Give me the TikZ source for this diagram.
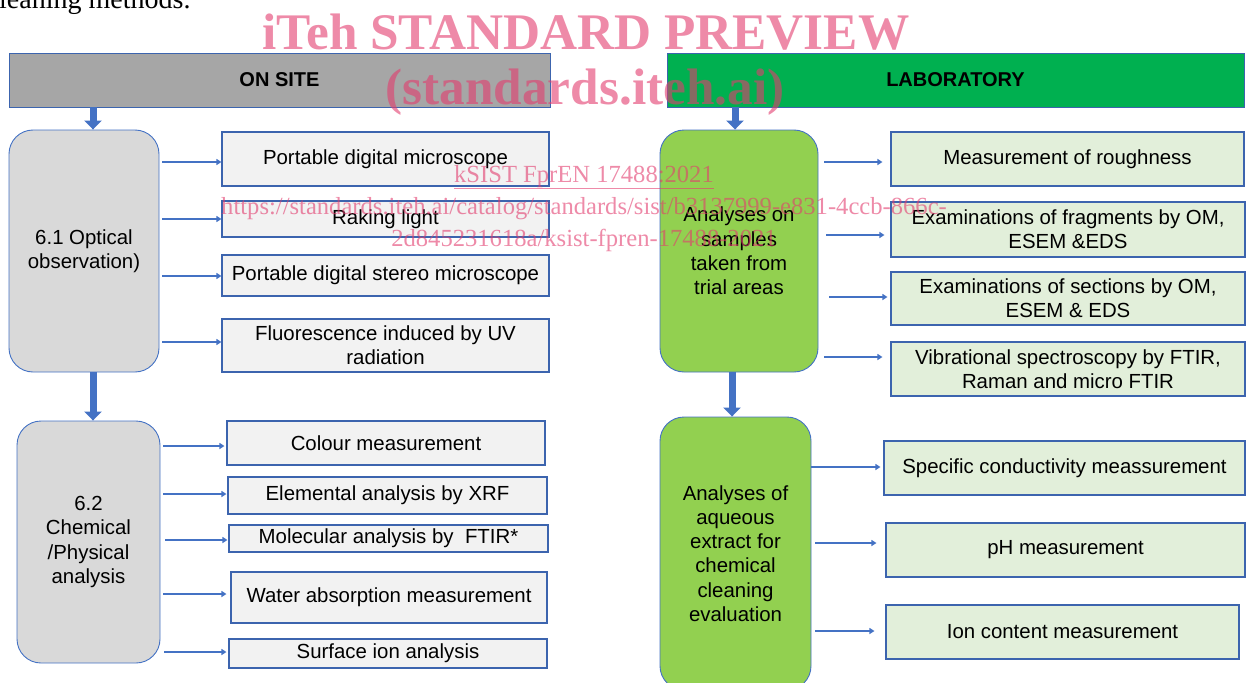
\documentclass[tikz,border=0pt]{standalone}
\usepackage{fontspec}
\setmainfont{Liberation Sans}
\newfontfamily\wmserif{Liberation Serif}
\usetikzlibrary{arrows.meta}
\definecolor{abl}{HTML}{4472C4}
\definecolor{bord}{HTML}{3C64AE}
\definecolor{hgray}{HTML}{A6A6A6}
\definecolor{hgreen}{HTML}{00B050}
\definecolor{rgray}{HTML}{D9D9D9}
\definecolor{bgray}{HTML}{F2F2F2}
\definecolor{rgreen}{HTML}{92D050}
\definecolor{bgreen}{HTML}{E2EFDA}
\definecolor{wm}{RGB}{226,60,110}
\begin{document}
\begin{tikzpicture}[x=1pt,y=-1pt,
  txt/.style={font=\fontsize{20.4}{24.2}\selectfont, align=center, inner sep=0pt},
  hdr/.style={draw=bord, line width=0.8pt, font=\fontsize{20}{24}\selectfont\bfseries, inner sep=0pt},
  rbox/.style={txt, draw=abl, line width=0.9pt, rounded corners=24pt},
  gbox/.style={txt, draw=bord, line width=1.1pt, fill=bgray},
  lbox/.style={txt, draw=bord, line width=1.1pt, fill=bgreen},
  sarr/.style={draw=abl, line width=2.2pt, -{Triangle[length=5pt,width=6pt]}},
  barr/.style={draw=abl, line width=7pt, -{Triangle[length=9pt,width=17pt]}},
  wmk/.style={text=wm, text opacity=0.6, inner sep=0pt, anchor=base}
]
\useasboundingbox (0,0) rectangle (1246,682);

% top-left cut text
\node[font=\wmserif\fontsize{28}{30}\selectfont, anchor=base west, inner sep=0pt] (lead) at (-1,9) {leaning methods.};

% headers
\node[hdr, fill=hgray, minimum width=541pt, minimum height=54pt] (onsite) at (279.5,80) {ON SITE};
\node[hdr, fill=hgreen, minimum width=577pt, minimum height=54pt] (lab) at (955.5,80) {LABORATORY};

% rounded boxes
\node[rbox, fill=rgray, minimum width=150pt, minimum height=242pt] (o61) at (84,251) {6.1 Optical\\observation)};
\node[rbox, fill=rgray, minimum width=143pt, minimum height=242pt] (o62) at (88.5,542) {6.2\\Chemical\\/Physical\\analysis};
\node[rbox, fill=rgreen, minimum width=158pt, minimum height=242pt] (an1) at (739,251) {Analyses on\\samples\\taken from\\trial areas};
\node[rbox, fill=rgreen, minimum width=151pt, minimum height=273pt] (an2) at (735.5,553.5) {Analyses of\\aqueous\\extract for\\chemical\\cleaning\\evaluation};

% on site boxes
\node[gbox, minimum width=327pt, minimum height=54pt] (p1) at (385.5,159) {Portable digital microscope};
\node[gbox, minimum width=327pt, minimum height=36pt] (p2) at (385.5,219) {Raking light};
\node[gbox, minimum width=327pt, minimum height=41pt] (p3) at (385.5,275.5) {Portable digital stereo microscope};
\node[gbox, minimum width=327pt, minimum height=53pt] (p4) at (385.5,345.5) {Fluorescence induced by UV\\radiation};
\node[gbox, minimum width=318pt, minimum height=44pt] (c1) at (386,443) {Colour measurement};
\node[gbox, minimum width=319pt, minimum height=37pt] (c2) at (387.5,495.5) {Elemental analysis by XRF};
\node[gbox, minimum width=319pt, minimum height=27pt] (c3) at (388.5,538.5) {Molecular analysis by\ \ FTIR*};
\node[gbox, minimum width=316pt, minimum height=51pt] (c4) at (389,597.5) {Water absorption measurement};
\node[gbox, minimum width=318pt, minimum height=29pt] (c5) at (388,653.5) {Surface ion analysis};

% laboratory boxes
\node[lbox, minimum width=353pt, minimum height=54pt] (l1) at (1067.5,159) {Measurement of roughness};
\node[lbox, minimum width=354pt, minimum height=55pt] (l2) at (1068,229.5) {Examinations of fragments by OM,\\ESEM \&EDS};
\node[lbox, minimum width=354pt, minimum height=53pt] (l3) at (1068,298.5) {Examinations of sections by OM,\\ESEM \& EDS};
\node[lbox, minimum width=354pt, minimum height=54pt] (l4) at (1068,369) {Vibrational spectroscopy by FTIR,\\Raman and micro FTIR};
\node[lbox, minimum width=361pt, minimum height=54pt] (l5) at (1064.5,468) {Specific conductivity meassurement};
\node[lbox, minimum width=359pt, minimum height=54pt] (l6) at (1065.5,550) {pH measurement};
\node[lbox, minimum width=353pt, minimum height=54pt] (l7) at (1062.5,632) {Ion content measurement};

% big arrows
\draw[barr] (onsite.south -| 93,0) -- (o61.north -| 93,0);
\draw[barr] (o61.south -| 93,0) -- (o62.north -| 93,0);
\draw[barr] (lab.south -| 735,0) -- (an1.north -| 735,0);
\draw[barr] (an1.south -| 732,0) -- (an2.north -| 732,0);

% small arrows on site
\draw[sarr, shorten <=3pt] (o61.east |- 0,162) -- (p1.west |- 0,162);
\draw[sarr, shorten <=3pt] (o61.east |- 0,219) -- (p2.west |- 0,219);
\draw[sarr, shorten <=3pt] (o61.east |- 0,276) -- (p3.west |- 0,276);
\draw[sarr, shorten <=3pt] (o61.east |- 0,342) -- (p4.west |- 0,342);
\draw[sarr, shorten <=3pt, shorten >=2pt] (o62.east |- 0,446) -- (c1.west |- 0,446);
\draw[sarr, shorten <=3pt, shorten >=1pt] (o62.east |- 0,494) -- (c2.west |- 0,494);
\draw[sarr, shorten <=5pt, shorten >=1pt] (o62.east |- 0,540) -- (c3.west |- 0,540);
\draw[sarr, shorten <=3pt, shorten >=4pt] (o62.east |- 0,594) -- (c4.west |- 0,594);
\draw[sarr, shorten <=4pt, shorten >=2pt] (o62.east |- 0,652) -- (c5.west |- 0,652);

% small arrows lab
\draw[sarr, shorten <=6pt, shorten >=8pt] (an1.east |- 0,162) -- (l1.west |- 0,162);
\draw[sarr, shorten <=8pt, shorten >=6pt] (an1.east |- 0,235) -- (l2.west |- 0,235);
\draw[sarr, shorten <=11pt, shorten >=3pt] (an1.east |- 0,297) -- (l3.west |- 0,297);
\draw[sarr, shorten <=6pt, shorten >=8pt] (an1.east |- 0,357) -- (l4.west |- 0,357);
\draw[sarr, shorten >=3pt] (an2.east |- 0,467) -- (l5.west |- 0,467);
\draw[sarr, shorten <=4pt, shorten >=9pt] (an2.east |- 0,543) -- (l6.west |- 0,543);
\draw[sarr, shorten <=4pt, shorten >=11pt] (an2.east |- 0,631) -- (l7.west |- 0,631);

% watermark
\node[wmk, font=\wmserif\bfseries\fontsize{51.3}{53}\selectfont] (w1) at (586,50) {iTeh STANDARD PREVIEW};
\node[wmk, font=\wmserif\bfseries\fontsize{51.3}{53}\selectfont] (w2) at (585,105) {(standards.iteh.ai)};
\node[wmk, font=\wmserif\fontsize{24.6}{27}\selectfont] (w3) at (584,182) {\underline{kSIST FprEN 17488:2021}};
\node[wmk, font=\wmserif\fontsize{24.6}{27}\selectfont] (w4) at (584,214) {https://standards.iteh.ai/catalog/standards/sist/b3137999-e831-4ccb-866c-};
\node[wmk, font=\wmserif\fontsize{24.6}{27}\selectfont] (w5) at (584,246) {2d845231618a/ksist-fpren-17488-2021};
\end{tikzpicture}
\end{document}
